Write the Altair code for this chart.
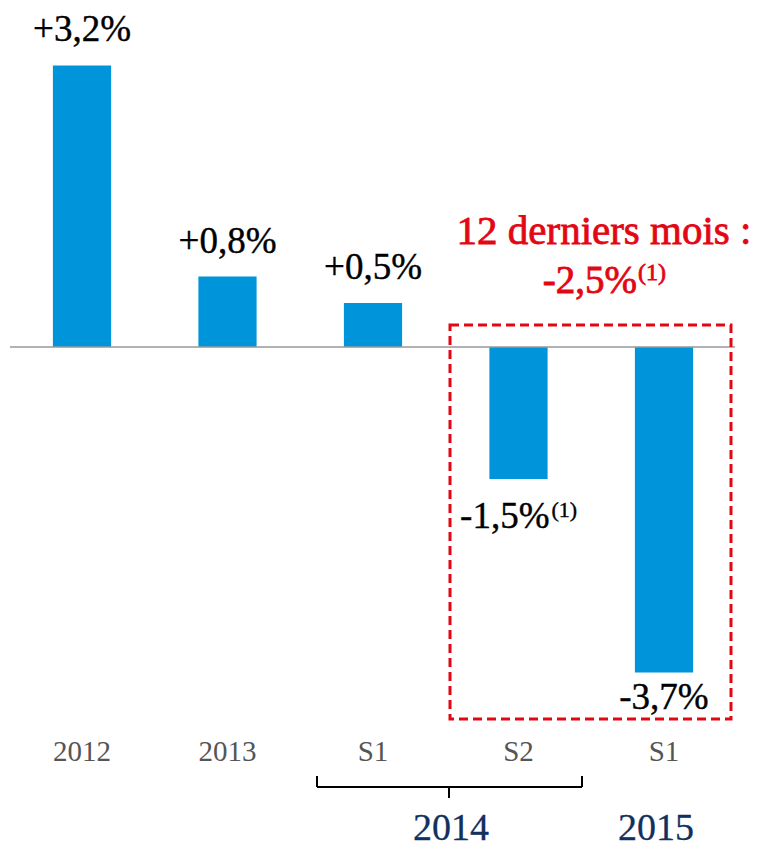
import altair as alt
import pandas as pd

# ---- data ----
keys = ["2012", "2013", "2014 S1", "2014 S2", "2015 S1"]
cats = ["2012", "2013", "S1", "S2", "S1"]
values = [3.2, 0.8, 0.5, -1.5, -3.7]
labels = ["+3,2%", "+0,8%", "+0,5%", "-1,5%", "-3,7%"]
notes = ["", "", "", "(1)", ""]
years = ["2014", "2015"]
red_title = "12 derniers mois :"
red_value = "-2,5%"
red_note = "(1)"

FONT = "Liberation Serif"
BLUE = "#0095da"
RED = "#e30613"
NAVY = "#12305e"

df = pd.DataFrame({"key": keys, "cat": cats, "value": values,
                   "label": labels, "note": notes})
one = pd.DataFrame({"d": [0]})

xenc = alt.X("key:N", sort=keys, axis=None,
             scale=alt.Scale(paddingInner=0.6, paddingOuter=0.3086))
yscale = alt.Scale(domain=[-5.6477, 3.8523], nice=False, zero=False)
yenc = alt.Y("value:Q", scale=yscale, axis=None)

base = alt.Chart(df)

bars = base.mark_bar(color=BLUE).encode(x=xenc, y=yenc)

zero = alt.Chart(pd.DataFrame({"value": [0]})).mark_rule(
    color="#999999", strokeWidth=1.5).encode(
    y=yenc, x=alt.value(2), x2=alt.value(727))

txt = dict(font=FONT, color="black", stroke="black", strokeWidth=0.4,
           baseline="middle")

pos_lab = base.transform_filter("datum.value > 0").mark_text(
    fontSize=37, dy=-35, **txt).encode(x=xenc, y=yenc, text="label:N")

neg_lab = base.transform_filter("datum.value < 0 && datum.note == ''").mark_text(
    fontSize=37, dy=25, **txt).encode(x=xenc, y=yenc, text="label:N")

neg_lab_n = base.transform_filter("datum.note != ''").mark_text(
    fontSize=37, dy=38, dx=31, align="right", **txt).encode(
    x=xenc, y=yenc, text="label:N")

note_lab = base.transform_filter("datum.note != ''").mark_text(
    fontSize=22, dy=31, dx=33, align="left", **txt).encode(
    x=xenc, y=yenc, text="note:N")

cat_lab = base.mark_text(font=FONT, fontSize=29, color="#555555",
                         baseline="middle").encode(
    x=xenc, y=alt.value(744), text="cat:N")

year_df = pd.DataFrame({"year": years, "px": [443, 648]})
year_lab = alt.Chart(year_df).mark_text(
    font=FONT, fontSize=38, color=NAVY, stroke=NAVY, strokeWidth=0.3,
    baseline="middle").encode(
    x=alt.X("px:Q", scale=None), y=alt.value(821), text="year:N")

brace_h = alt.Chart(one).mark_rule(color="black", strokeWidth=2).encode(
    x=alt.value(309), x2=alt.value(574), y=alt.value(779))
brace_l = alt.Chart(one).mark_rule(color="black", strokeWidth=2).encode(
    x=alt.value(309), y=alt.value(768), y2=alt.value(779))
brace_r = alt.Chart(one).mark_rule(color="black", strokeWidth=2).encode(
    x=alt.value(574), y=alt.value(768), y2=alt.value(779))
brace_m = alt.Chart(one).mark_rule(color="black", strokeWidth=2).encode(
    x=alt.value(441), y=alt.value(779), y2=alt.value(790))

box = alt.Chart(one).mark_rect(
    fillOpacity=0, stroke=RED, strokeWidth=3, strokeDash=[9, 5]).encode(
    x=alt.value(442), x2=alt.value(723), y=alt.value(317), y2=alt.value(711))

red_txt = dict(font=FONT, color=RED, stroke=RED, strokeWidth=0.8,
               baseline="middle")
red_df = pd.DataFrame({"t": [red_title], "v": [red_value], "n": [red_note]})
red1 = alt.Chart(red_df).mark_text(fontSize=41, **red_txt).encode(
    x=alt.value(596), y=alt.value(224), text="t:N")
red2 = alt.Chart(red_df).mark_text(fontSize=39, align="right", **red_txt).encode(
    x=alt.value(629), y=alt.value(273), text="v:N")
red3 = alt.Chart(red_df).mark_text(fontSize=24, align="left", **red_txt).encode(
    x=alt.value(630), y=alt.value(265), text="n:N")

chart = alt.layer(
    bars, zero, pos_lab, neg_lab, neg_lab_n, note_lab, cat_lab, year_lab,
    brace_h, brace_l, brace_r, brace_m, box, red1, red2, red3
).properties(
    width=730, height=836,
    autosize=alt.AutoSizeParams(type="none"),
    padding={"left": 0, "top": 0, "right": 13, "bottom": 8},
).configure_view(stroke=None)

chart.save("out.html", embed_options={"renderer": "svg", "actions": False})
